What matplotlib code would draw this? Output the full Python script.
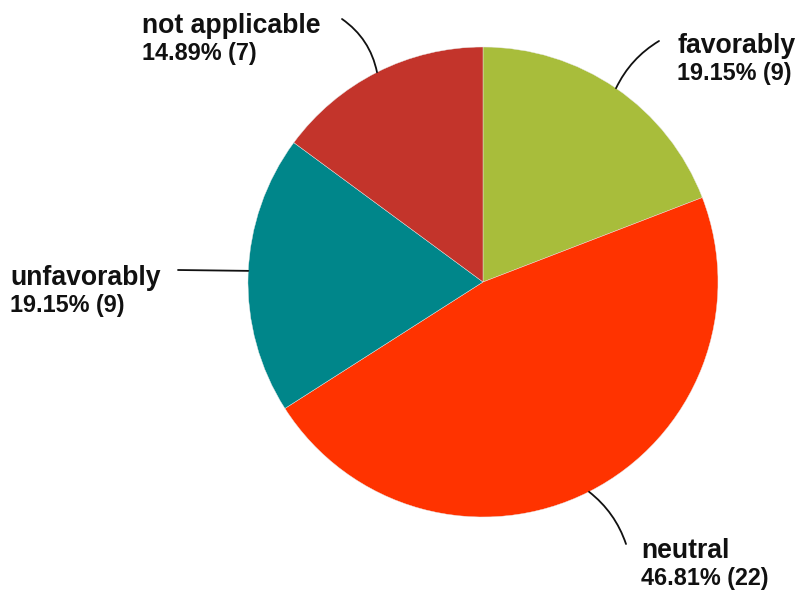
"""Pie chart of response distribution with leader-line labels."""

import matplotlib
import numpy as np

matplotlib.use("Agg")
import matplotlib.pyplot as plt

categories = ["favorably", "neutral", "unfavorably", "not applicable"]
counts = [9, 22, 9, 7]
colors = ["#a8bd3b", "#ff3300", "#00868a", "#c3342b"]

plt.rcParams["font.family"] = ["Liberation Sans", "DejaVu Sans"]

fig = plt.figure(figsize=(7.99, 5.90), dpi=100)
ax = fig.add_axes([0, 0, 1, 1])

cx, cy, r = 483, 308, 235
wedges, _ = ax.pie(
    counts,
    colors=colors,
    startangle=90,
    counterclock=False,
    center=(cx, cy),
    radius=r,
    frame=True,
    wedgeprops=dict(edgecolor="#e8e8e8", linewidth=0.3),
)
ax.set_xlim(0, 799)
ax.set_ylim(0, 590)
ax.set_aspect("equal")
ax.axis("off")

total = sum(counts)
# line end, text anchor (left, name baseline), curvature, angle nudge
label_opts = {
    "favorably": dict(end=(659, 549), text=(677, 537), rad=-0.15),
    "neutral": dict(end=(626, 46), text=(641, 32), rad=-0.15),
    "unfavorably": dict(end=(178, 320), text=(10, 305), rad=0.0, ang=-0.8),
    "not applicable": dict(end=(342, 571), text=(142, 557), rad=0.2),
}

for w, name, n in zip(wedges, categories, counts):
    opt = label_opts[name]
    mid = np.deg2rad((w.theta1 + w.theta2) / 2 + opt.get("ang", 0))
    start = (cx + r * np.cos(mid), cy + r * np.sin(mid))
    ax.annotate(
        "",
        xy=opt["end"],
        xytext=start,
        arrowprops=dict(arrowstyle="-", color="#111111", lw=1.3,
                        connectionstyle=f"arc3,rad={opt['rad']}",
                        shrinkA=0, shrinkB=0),
    )
    tx, ty = opt["text"]
    ax.text(tx, ty, name, fontsize=19.2, fontweight="bold",
            va="baseline", ha="left", color="#111111")
    ax.text(tx, ty - 27, f"{n / total * 100:.2f}% ({n})", fontsize=16.8,
            fontweight="bold", va="baseline", ha="left", color="#111111")

fig.savefig("out.png", dpi=100)
